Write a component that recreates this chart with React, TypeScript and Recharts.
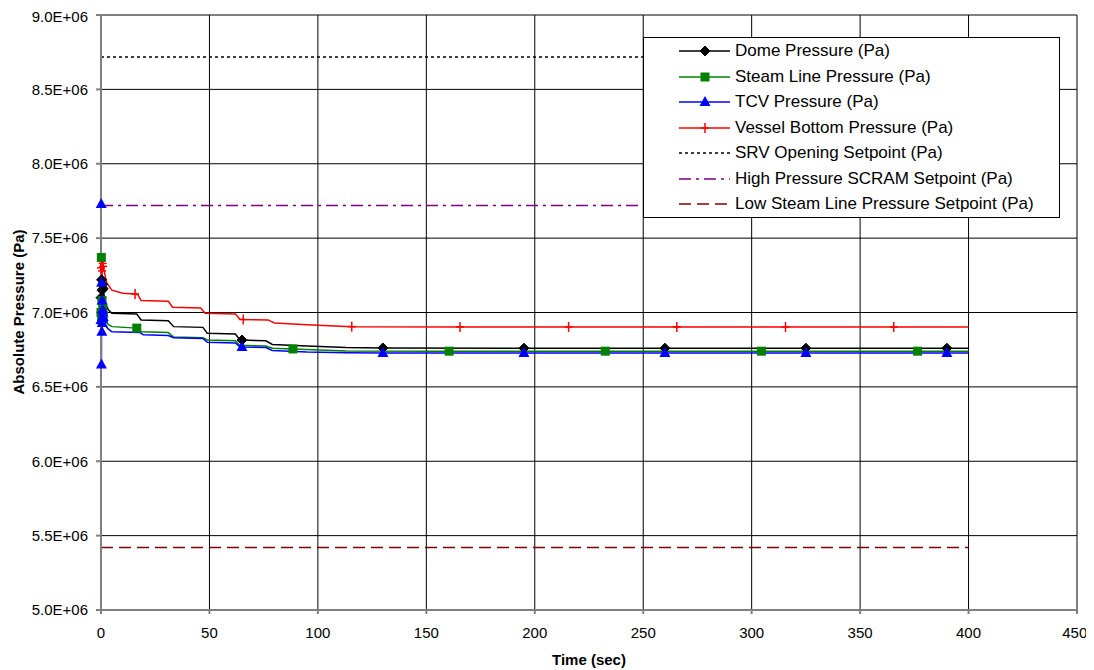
import React from "react";
import { LineChart, Line, XAxis, YAxis, CartesianGrid } from "recharts";

const xTicks = [0, 50, 100, 150, 200, 250, 300, 350, 400, 450];
const yTicks = [5.0e6, 5.5e6, 6.0e6, 6.5e6, 7.0e6, 7.5e6, 8.0e6, 8.5e6, 9.0e6];

// Dome Pressure (Pa)
const domeTime = [0, 0.25, 0.5, 0.75, 1.0, 1.8, 3.3, 5, 16.5, 18.5, 31, 33.5, 47, 49, 62, 64, 65, 76, 79, 95, 113, 130, 195, 260, 325, 390, 400];
const domeValue = [7.10e6, 7.22e6, 7.15e6, 7.19e6, 7.16e6, 7.07e6, 7.02e6, 6.995e6, 6.99e6, 6.95e6, 6.945e6, 6.905e6, 6.90e6, 6.86e6, 6.855e6, 6.815e6, 6.815e6, 6.81e6, 6.785e6, 6.775e6, 6.765e6, 6.762e6, 6.76e6, 6.76e6, 6.76e6, 6.76e6, 6.76e6];
const domeMarkers = [0, 0.25, 0.5, 0.75, 1.0, 65, 130, 195, 260, 325, 390];

// Steam Line Pressure (Pa)
const steamTime = [0, 0.15, 0.3, 0.45, 0.6, 0.8, 1.0, 2, 3.3, 5, 16.5, 18.5, 31, 33.5, 47, 49, 62, 64, 76, 79, 88.5, 113, 160.5, 232.5, 304.5, 376.5, 400];
const steamValue = [7.00e6, 7.37e6, 6.95e6, 7.08e6, 6.97e6, 7.03e6, 6.98e6, 6.95e6, 6.92e6, 6.905e6, 6.895e6, 6.87e6, 6.865e6, 6.835e6, 6.83e6, 6.815e6, 6.81e6, 6.78e6, 6.775e6, 6.76e6, 6.755e6, 6.742e6, 6.74e6, 6.74e6, 6.74e6, 6.74e6, 6.74e6];
const steamMarkers = [0, 0.15, 0.3, 0.45, 0.6, 0.8, 1.0, 16.5, 88.5, 160.5, 232.5, 304.5, 376.5];

// TCV Pressure (Pa)
const tcvTime = [0, 0.1, 0.2, 0.3, 0.4, 0.5, 0.6, 0.7, 0.8, 0.9, 1.0, 1.5, 3.3, 5, 18, 19.5, 31, 33.5, 47, 49, 62, 64, 65, 76, 79, 95, 113, 130, 195, 260, 325, 390, 400];
const tcvValue = [6.95e6, 7.73e6, 6.65e6, 7.20e6, 6.87e6, 7.08e6, 6.93e6, 7.02e6, 6.96e6, 7.00e6, 6.97e6, 6.92e6, 6.89e6, 6.87e6, 6.865e6, 6.85e6, 6.845e6, 6.83e6, 6.825e6, 6.80e6, 6.795e6, 6.77e6, 6.768e6, 6.765e6, 6.745e6, 6.735e6, 6.73e6, 6.728e6, 6.728e6, 6.728e6, 6.728e6, 6.728e6, 6.728e6];
const tcvMarkers = [0, 0.1, 0.2, 0.3, 0.4, 0.5, 0.6, 0.7, 0.8, 0.9, 1.0, 65, 130, 195, 260, 325, 390];

// Vessel Bottom Pressure (Pa)
const vesselTime = [0, 0.25, 0.5, 0.75, 1.0, 2.6, 5, 10, 15.7, 17, 18.5, 31, 33, 46, 48, 62, 64, 65.6, 77, 80, 95, 115.6, 165.5, 215.6, 265.5, 315.6, 365.5, 400];
const vesselValue = [7.30e6, 7.35e6, 7.28e6, 7.33e6, 7.31e6, 7.20e6, 7.15e6, 7.13e6, 7.125e6, 7.12e6, 7.08e6, 7.075e6, 7.035e6, 7.03e6, 6.995e6, 6.99e6, 6.955e6, 6.953e6, 6.95e6, 6.93e6, 6.918e6, 6.905e6, 6.903e6, 6.903e6, 6.903e6, 6.903e6, 6.903e6, 6.903e6];
const vesselMarkers = [0, 0.25, 0.5, 0.75, 1.0, 15.7, 65.6, 115.6, 165.5, 215.6, 265.5, 315.6, 365.5];

// Setpoints
const setpointTime = [0, 400];
const srvValue = [8.718e6, 8.718e6];
const scramValue = [7.72e6, 7.72e6];
const lowSteamValue = [5.42e6, 5.42e6];

type Pt = { t: number; v: number; m: boolean };
const build = (ts: number[], vs: number[], marks: number[] = []): Pt[] =>
  ts.map((t, i) => ({ t, v: vs[i], m: marks.includes(t) }));

const domeData = build(domeTime, domeValue, domeMarkers);
const steamData = build(steamTime, steamValue, steamMarkers);
const tcvData = build(tcvTime, tcvValue, tcvMarkers);
const vesselData = build(vesselTime, vesselValue, vesselMarkers);
const srvData = build(setpointTime, srvValue);
const scramData = build(setpointTime, scramValue);
const lowData = build(setpointTime, lowSteamValue);

const FONT = '"Liberation Sans", Arial, sans-serif';

const Marker = ({ shape, color, cx, cy }: { shape: string; color: string; cx: number; cy: number }) => {
  if (shape === "diamond")
    return <polygon points={`${cx},${cy - 5} ${cx + 5},${cy} ${cx},${cy + 5} ${cx - 5},${cy}`} fill={color} stroke={color} />;
  if (shape === "square")
    return <rect x={cx - 4.5} y={cy - 4.5} width={9} height={9} fill={color} />;
  if (shape === "triangle")
    return <polygon points={`${cx},${cy - 6} ${cx + 5.5},${cy + 4} ${cx - 5.5},${cy + 4}`} fill={color} />;
  if (shape === "plus")
    return (
      <g stroke={color} strokeWidth={1.5}>
        <line x1={cx - 4} y1={cy} x2={cx + 4} y2={cy} />
        <line x1={cx} y1={cy - 5} x2={cx} y2={cy + 5} />
      </g>
    );
  return null;
};

const makeDot = (shape: string, color: string) => (props: any) => {
  const { cx, cy, payload, index } = props;
  if (!payload || !payload.m || cx == null || cy == null) return <g key={`e-${shape}-${index}`} />;
  return (
    <g key={`d-${shape}-${index}`}>
      <Marker shape={shape} color={color} cx={cx} cy={cy} />
    </g>
  );
};

const legendItems = [
  { name: "Dome Pressure (Pa)", color: "#000000", shape: "diamond", dash: "" },
  { name: "Steam Line Pressure (Pa)", color: "#008000", shape: "square", dash: "" },
  { name: "TCV Pressure (Pa)", color: "#0000FF", shape: "triangle", dash: "" },
  { name: "Vessel Bottom Pressure (Pa)", color: "#FF0000", shape: "plus", dash: "" },
  { name: "SRV Opening Setpoint (Pa)", color: "#000000", shape: "", dash: "3 3" },
  { name: "High Pressure SCRAM Setpoint (Pa)", color: "#800080", shape: "", dash: "12 5 3 5" },
  { name: "Low Steam Line Pressure Setpoint (Pa)", color: "#800000", shape: "", dash: "12 6" },
];

const fmtY = (v: number) => (v / 1e6).toFixed(1) + "E+06";

export default function App() {
  return (
    <div style={{ position: "relative", width: 1078, height: 662, fontFamily: FONT }}>
      <LineChart width={1078} height={662} margin={{ top: 7, right: 9, bottom: 0, left: 0 }}>
        <CartesianGrid stroke="#000" strokeWidth={1} />
        <XAxis
          dataKey="t"
          type="number"
          domain={[0, 450]}
          ticks={xTicks}
          allowDuplicatedCategory={false}
          height={60}
          stroke="#808080"
          strokeWidth={2}
          tickSize={4}
          tickMargin={13}
          tick={{ fill: "#000", fontSize: 15, fontFamily: FONT }}
          label={{
            content: (p: any) => (
              <text x={581} y={651} textAnchor="middle" dominantBaseline="central" fontWeight="bold" fontSize={15} fontFamily={FONT} fill="#000">
                Time (sec)
              </text>
            ),
          }}
        />
        <YAxis
          type="number"
          domain={[5e6, 9e6]}
          ticks={yTicks}
          width={93}
          stroke="#808080"
          strokeWidth={2}
          tickSize={5}
          tickMargin={8}
          tickFormatter={fmtY}
          tick={{ fill: "#000", fontSize: 15, fontFamily: FONT }}
          label={{
            content: (p: any) => (
              <text x={10} y={304} textAnchor="middle" dominantBaseline="central" fontWeight="bold" fontSize={15} fontFamily={FONT} fill="#000" transform="rotate(-90 10 304)">
                Absolute Pressure (Pa)
              </text>
            ),
          }}
        />
        <Line data={srvData} dataKey="v" stroke="#000" strokeWidth={1.5} strokeDasharray="3 3" dot={false} isAnimationActive={false} />
        <Line data={scramData} dataKey="v" stroke="#800080" strokeWidth={1.5} strokeDasharray="12 5 3 5" dot={false} isAnimationActive={false} />
        <Line data={lowData} dataKey="v" stroke="#800000" strokeWidth={1.5} strokeDasharray="12 6" dot={false} isAnimationActive={false} />
        <Line data={vesselData} dataKey="v" stroke="#FF0000" strokeWidth={1.5} dot={makeDot("plus", "#FF0000")} isAnimationActive={false} />
        <Line data={domeData} dataKey="v" stroke="#000000" strokeWidth={1.5} dot={makeDot("diamond", "#000000")} isAnimationActive={false} />
        <Line data={steamData} dataKey="v" stroke="#008000" strokeWidth={1.5} dot={makeDot("square", "#008000")} isAnimationActive={false} />
        <Line data={tcvData} dataKey="v" stroke="#0000FF" strokeWidth={1.5} dot={makeDot("triangle", "#0000FF")} isAnimationActive={false} />
      </LineChart>
      <div
        style={{
          position: "absolute",
          left: 635,
          top: 29,
          width: 417,
          height: 181,
          boxSizing: "border-box",
          border: "1px solid #000",
          background: "#fff",
        }}
      >
        {legendItems.map((it, i) => (
          <div key={it.name} style={{ position: "absolute", left: 35, top: 13 + i * 25.5 - 10, height: 20, display: "flex", alignItems: "center" }}>
            <svg width={52} height={20} style={{ display: "block" }}>
              <line x1={0} y1={10} x2={51} y2={10} stroke={it.color} strokeWidth={1.5} strokeDasharray={it.dash || undefined} />
              {it.shape ? <Marker shape={it.shape} color={it.color} cx={26} cy={10} /> : null}
            </svg>
            <span style={{ marginLeft: 4, fontSize: 17, color: "#000", whiteSpace: "nowrap", fontFamily: FONT }}>{it.name}</span>
          </div>
        ))}
      </div>
    </div>
  );
}
